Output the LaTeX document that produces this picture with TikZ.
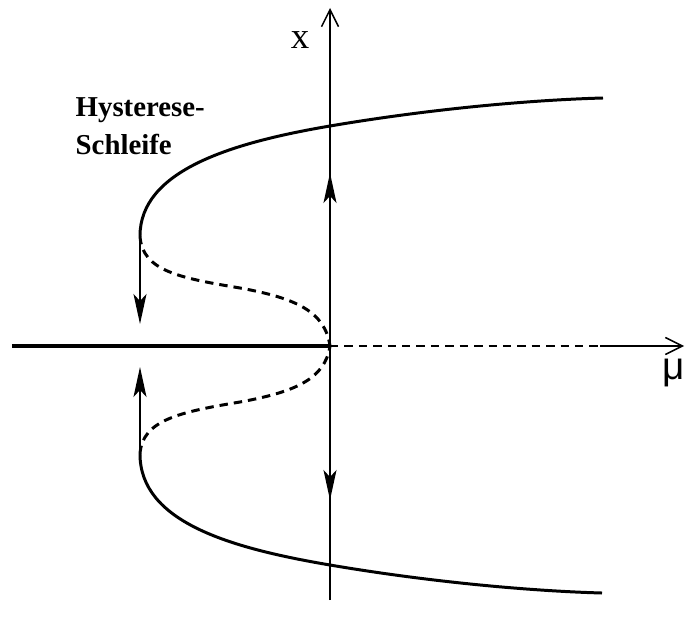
\documentclass[tikz,border=0pt]{standalone}
\usepackage{fontspec}
\setmainfont{Liberation Serif}
\newfontfamily\mufont{Liberation Sans}
\usetikzlibrary{arrows.meta}
\begin{document}
\begin{tikzpicture}[
	axis/.style={line width=0.43pt, -{Straight Barb[length=1.7mm,width=1.7mm]}},
	branch/.style={line width=0.85pt},
	unstable/.style={line width=0.85pt, dash pattern=on 2.4pt off 1.7pt},
	flow/.style={line width=0.43pt, -{Stealth[length=3mm,width=1.3mm,inset=0.7mm]}}
	]
	\useasboundingbox (-3.30,-2.72) rectangle (3.55,3.46);
	\coordinate (o) at (0,0);
	\coordinate (xb) at (0,-2.54);
	\coordinate (xt) at (0,3.38);
	\coordinate (ml) at (-3.18,0);
	\coordinate (md) at (2.70,0);
	\coordinate (mr) at (3.54,0);
	\coordinate (up) at (-1.90,1.10);
	\coordinate (lo) at (-1.90,-1.08);
	\coordinate (ue) at (2.73,2.48);
	\coordinate (le) at (2.72,-2.47);
	\coordinate (dn1) at (-1.90,0.22);
	\coordinate (dn2) at (-1.90,-0.21);
	\coordinate (c1) at (0,1.73);
	\coordinate (c2) at (0,-1.54);
	\node (xlab) at (-0.30,3.06) {\fontsize{10.5}{12}\selectfont x};
	\node (mulab) at (3.44,-0.27) {\fontsize{11}{12}\selectfont\mufont μ};
	\node[anchor=north west, inner sep=0pt, align=left, font=\fontsize{8.2}{10.8}\selectfont\bfseries] (hyst) at (-2.55,2.49) {Hysterese-\\Schleife};
	% axes
	\draw[axis] (xb) -- (xt);
	\draw[line width=1.15pt] (ml) -- (o);
	\draw[unstable] (o) -- (md);
	\draw[axis] (md) -- (mr);
	% branches
	\draw[branch] (up) .. controls (-1.90,1.75) and (-1.0,2.03) .. (0,2.20) .. controls (1.0,2.37) and (2.0,2.46) .. (ue);
	\draw[branch] (lo) .. controls (-1.90,-1.76) and (-1.0,-2.02) .. (0,-2.19) .. controls (1.0,-2.36) and (2.0,-2.45) .. (le);
	\draw[unstable] (up) .. controls (-1.88,0.75) and (-1.5,0.68) .. (-0.9,0.58) .. controls (-0.35,0.48) and (-0.05,0.35) .. (o);
	\draw[unstable] (lo) .. controls (-1.88,-0.74) and (-1.5,-0.66) .. (-0.9,-0.56) .. controls (-0.35,-0.46) and (-0.05,-0.33) .. (o);
	% jumps
	\draw[flow] (up) -- (dn1);
	\draw[flow] (lo) -- (dn2);
	\draw[flow] (o) -- (c1);
	\draw[flow] (o) -- (c2);
\end{tikzpicture}
\end{document}
